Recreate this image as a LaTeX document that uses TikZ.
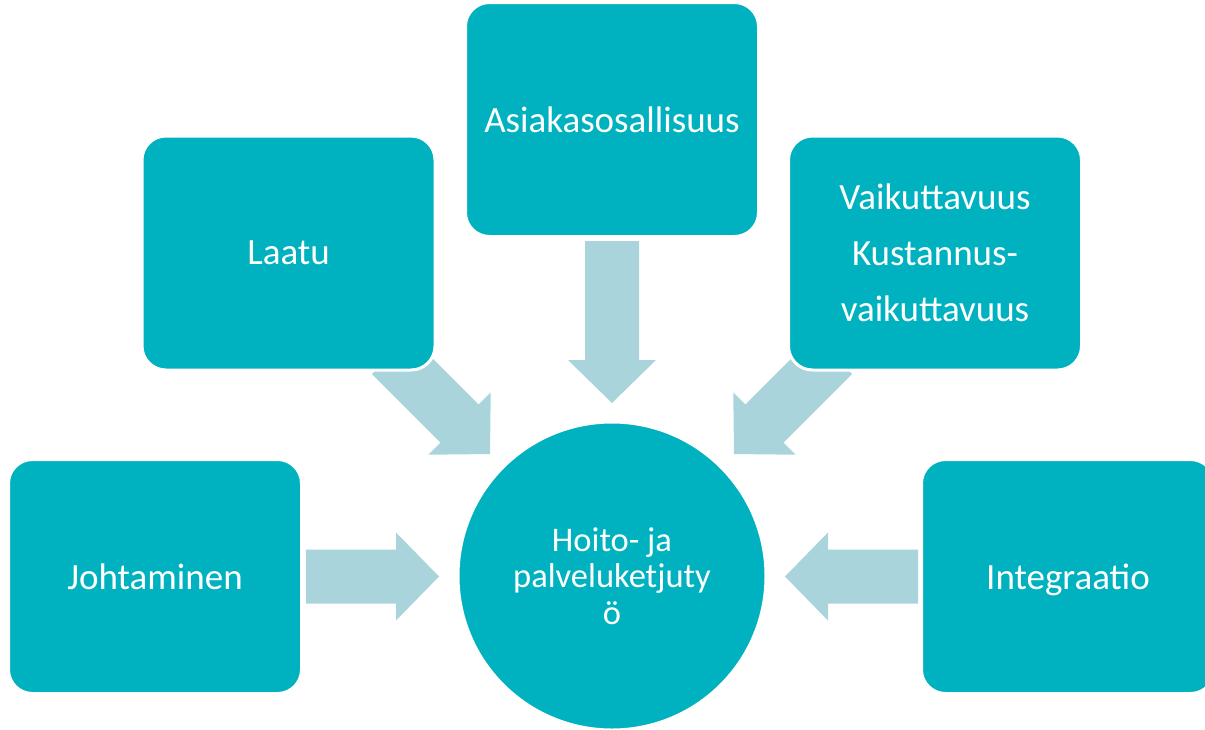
\documentclass[tikz,border=0pt]{standalone}
\usepackage{fontspec}
\setmainfont{Carlito}
\usetikzlibrary{calc}
\definecolor{tealbox}{RGB}{0,178,191}
\definecolor{arrowfill}{RGB}{170,212,219}
\newcommand\blockarr[2]{%
  \path coordinate (ba) at ($(#2)!43pt!(#1)$);
  \fill[arrowfill] ($(#1)!27pt!90:(#2)$) -- ($(ba)!27pt!90:(#2)$) -- ($(ba)!44pt!90:(#2)$) -- (#2)
    -- ($(ba)!44pt!-90:(#2)$) -- ($(ba)!27pt!-90:(#2)$) -- ($(#1)!27pt!-90:(#2)$) -- cycle;}
\tikzset{
  box/.style={rectangle, rounded corners=24pt, fill=tealbox, draw=white, line width=3pt,
    minimum width=293pt, minimum height=234pt, text=white, align=center,
    font=\fontsize{37}{56}\selectfont, inner sep=0pt},
  hub/.style={circle, fill=tealbox, draw=white, line width=3pt, minimum size=308pt,
    text=white, align=center, font=\fontsize{34.5}{36.5}\selectfont, inner sep=0pt}
}
\begin{document}
\begin{tikzpicture}[x=1pt,y=-1pt]
\useasboundingbox (0,0) rectangle (1205,729);
\fill[white] (0,0) rectangle (1205,729);
% arrow end points
\coordinate (lt) at (306,576.5);  \coordinate (lh) at (439,576.5);
\coordinate (rt) at (918,576.5);  \coordinate (rh) at (785,576.5);
\coordinate (tt) at (612,241);    \coordinate (th) at (612,403);
\coordinate (dlt) at (391,355);   \coordinate (dlh) at (490,454);
\coordinate (drt) at (833,355);   \coordinate (drh) at (734,454);
\blockarr{lt}{lh}
\blockarr{rt}{rh}
\blockarr{tt}{th}
\blockarr{dlt}{dlh}
\blockarr{drt}{drh}
% boxes
\node[box] (joh) at (155,576.5) {Johtaminen};
\node[box] (int) at (1068,576.5) {\raisebox{0pt}[\height][0pt]{Integraatio}};
\node[box] (laa) at (288.5,253) {Laatu};
\node[box] (asi) at (612,119.5) {Asiakasosallisuus};
\node[box] (vai) at (935,253) {Vaikuttavuus\\Kustannus-\\vaikuttavuus};
\node[hub] (hub) at (612,576) {Hoito- ja\\palveluketjuty\\ö};
\end{tikzpicture}
\end{document}
